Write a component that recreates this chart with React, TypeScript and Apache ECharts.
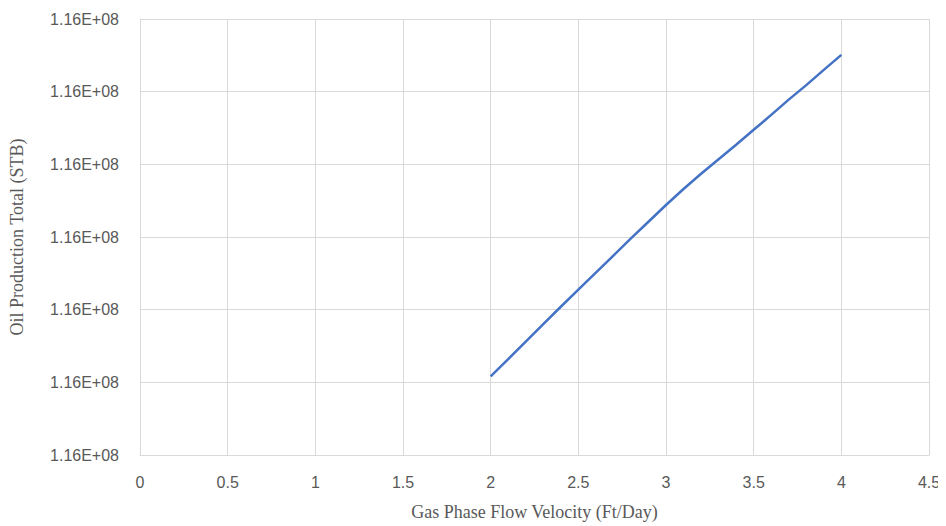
import React, { useEffect, useRef } from "react";
import * as echarts from "echarts";

const velocity = [2.0, 2.1, 2.2, 2.3, 2.4, 2.5, 2.6, 2.7, 2.8, 2.9, 3.0, 3.1, 3.2, 3.3, 3.4, 3.5, 3.6, 3.7, 3.8, 3.9, 4.0];
const oilTotal = [
  115998083, 115998320, 115998560, 115998800, 115999040, 115999275, 115999510, 115999745,
  115999980, 116000210, 116000440, 116000660, 116000870, 116001070, 116001270, 116001475,
  116001680, 116001890, 116002090, 116002300, 116002507,
];
const yMin = 115997000;
const yMax = 116003000;
const yInterval = 1000;

function fmtSci(v: number): string {
  const s = v.toExponential(2);
  const [m, e] = s.split("e");
  const sign = e[0] === "-" ? "-" : "+";
  const digits = e.replace(/[+-]/, "").padStart(2, "0");
  return `${m}E${sign}${digits}`;
}

export default function App() {
  const ref = useRef<HTMLDivElement>(null);
  useEffect(() => {
    if (!ref.current) return;
    const chart = echarts.init(ref.current, undefined, { renderer: "svg" });
    const labelStyle = { color: "#595959", fontSize: 16, fontFamily: "Liberation Sans" };
    chart.setOption({
      animation: false,
      backgroundColor: "#ffffff",
      grid: { left: 140, right: 17, top: 19, bottom: 71 },
      xAxis: {
        type: "value",
        min: 0,
        max: 4.5,
        interval: 0.5,
        name: "Gas Phase Flow Velocity (Ft/Day)",
        nameLocation: "middle",
        nameGap: 48,
        nameTextStyle: { color: "#595959", fontSize: 18, fontFamily: "Liberation Serif" },
        axisLine: { show: true, lineStyle: { color: "#d9d9d9", width: 1 } },
        axisTick: { show: false },
        axisLabel: { ...labelStyle, margin: 19 },
        splitLine: { show: true, lineStyle: { color: "#d9d9d9", width: 1 } },
      },
      yAxis: {
        type: "value",
        min: yMin,
        max: yMax,
        interval: yInterval,
        name: "Oil Production Total (STB)",
        nameLocation: "middle",
        nameGap: 114,
        nameTextStyle: { color: "#595959", fontSize: 18, fontFamily: "Liberation Serif" },
        axisLine: { show: true, lineStyle: { color: "#d9d9d9", width: 1 } },
        axisTick: { show: false },
        axisLabel: { ...labelStyle, margin: 21, formatter: (v: number) => fmtSci(v) },
        splitLine: { show: true, lineStyle: { color: "#d9d9d9", width: 1 } },
      },
      series: [
        {
          type: "line",
          data: velocity.map((x, i) => [x, oilTotal[i]]),
          showSymbol: false,
          lineStyle: { color: "#4472C4", width: 2.5 },
          itemStyle: { color: "#4472C4" },
        },
      ],
    });
    return () => chart.dispose();
  }, []);
  return <div ref={ref} style={{ width: 946, height: 526, marginLeft: -8, marginTop: -8 }} />;
}
